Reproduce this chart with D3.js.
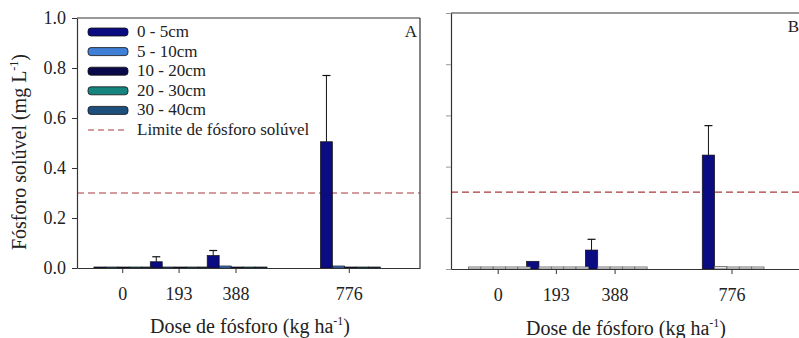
<!DOCTYPE html>
<html><head><meta charset="utf-8">
<script src="https://cdn.jsdelivr.net/npm/d3@7"></script>
<style>
body{margin:0;background:#fff;}
</style></head>
<body><svg id="c" width="799" height="338" style="font-family:'Liberation Serif','DejaVu Serif',serif"></svg>
<script>
const doses = [0, 193, 388, 776];
const doseLabels = ["0", "193", "388", "776"];
const seriesNames = ["0 - 5cm", "5 - 10cm", "10 - 20cm", "20 - 30cm", "30 - 40cm"];
const seriesColors = ["#0b0b82", "#3f7fd6", "#0a0a4a", "#17857f", "#1d4f7c"];
const yTicks = [0, 0.2, 0.4, 0.6, 0.8, 1.0];
const limitValue = 0.3;
const limitLabel = "Limite de fósforo solúvel";

// Panel A values (per series, per dose)
const A_s0 = [0.004, 0.025, 0.05, 0.505];
const A_s1 = [0.004, 0.004, 0.008, 0.008];
const A_s2 = [0.004, 0.004, 0.004, 0.004];
const A_s3 = [0.004, 0.004, 0.004, 0.004];
const A_s4 = [0.004, 0.004, 0.004, 0.004];
const A_err0 = [0, 0.02, 0.02, 0.265];
// Panel B values
const B_s0 = [0.008, 0.03, 0.074, 0.445];
const B_s1 = [0.008, 0.008, 0.008, 0.01];
const B_s2 = [0.008, 0.008, 0.008, 0.008];
const B_s3 = [0.008, 0.008, 0.008, 0.008];
const B_s4 = [0.008, 0.008, 0.008, 0.008];
const B_err0 = [0, 0, 0.042, 0.115];

const FONT = "'Liberation Serif','DejaVu Serif',serif";
const svg = d3.select("#c");
const xDomain = [-155, 1020];
const barW = 41, groupOffset = -97;

function txt(sel){ return sel.style("font-family", FONT).attr("fill", "#222"); }

function panel(cfg){
  const g = svg.append("g");
  const x = d3.scaleLinear().domain(xDomain).range([cfg.x0, cfg.x1]);
  const y = d3.scaleLinear().domain([0, 1]).range([cfg.y0, cfg.y1]);
  g.append("line").attr("x1", cfg.x0).attr("x2", cfg.x1).attr("y1", cfg.y1).attr("y2", cfg.y1)
    .attr("stroke", "#333").attr("stroke-width", 1.2);
  g.append("line").attr("x1", cfg.x1).attr("x2", cfg.x1).attr("y1", cfg.y1).attr("y2", cfg.y0)
    .attr("stroke", "#333").attr("stroke-width", 1.2);
  g.append("line").attr("x1", cfg.x0).attr("x2", cfg.x1).attr("y1", y(limitValue)).attr("y2", y(limitValue))
    .attr("stroke", "#a83838").attr("stroke-width", 1.2).attr("stroke-dasharray", "7,4");
  const vals = cfg.values;
  vals.forEach((arr, si) => {
    arr.forEach((v, di) => {
      const xs = x(doses[di] + groupOffset + si * barW);
      const xe = x(doses[di] + groupOffset + (si + 1) * barW);
      const small = cfg.lightSmall && v < 0.02;
      g.append("rect").attr("x", xs).attr("width", xe - xs)
        .attr("y", y(v)).attr("height", y(0) - y(v))
        .attr("fill", small ? "#e2e2e2" : seriesColors[si])
        .attr("stroke", small ? "#666" : "#111").attr("stroke-width", small ? 0.8 : 0.7);
    });
  });
  cfg.err.forEach((e, di) => {
    if (e <= 0) return;
    const xs = x(doses[di] + groupOffset), xe = x(doses[di] + groupOffset + barW);
    const cx = (xs + xe) / 2;
    const top = y(cfg.values[0][di] + e);
    g.append("line").attr("x1", cx).attr("x2", cx).attr("y1", y(cfg.values[0][di])).attr("y2", top)
      .attr("stroke", "#111").attr("stroke-width", 1);
    g.append("line").attr("x1", cx - 4).attr("x2", cx + 4).attr("y1", top).attr("y2", top)
      .attr("stroke", "#111").attr("stroke-width", 1.2);
  });
  const xa = g.append("g").attr("transform", `translate(0,${cfg.y0})`)
    .call(d3.axisBottom(x).tickValues(doses).tickFormat((d, i) => doseLabels[i]).tickSize(5).tickSizeOuter(0).tickPadding(14));
  xa.attr("font-family", null);
  xa.select(".domain").attr("stroke", "#333").attr("stroke-width", 1.2);
  xa.selectAll(".tick line").attr("stroke", "#333");
  txt(xa.selectAll("text")).attr("font-size", 18);
  const ya = g.append("g").attr("transform", `translate(${cfg.x0},0)`)
    .call(d3.axisLeft(y).tickValues(yTicks).tickFormat(cfg.yLabels ? d3.format(".1f") : () => "").tickSize(5).tickSizeOuter(0).tickPadding(6));
  ya.attr("font-family", null);
  ya.select(".domain").attr("stroke", "#333").attr("stroke-width", 1.2);
  ya.selectAll(".tick line").attr("stroke", cfg.yLabels ? "#333" : "#999");
  txt(ya.selectAll("text")).attr("font-size", 18);
  const t = txt(g.append("text")).attr("x", cfg.titleX).attr("y", cfg.titleY).attr("text-anchor", "middle")
    .attr("font-size", 20);
  t.append("tspan").text("Dose de fósforo (kg ha");
  t.append("tspan").attr("dy", -8).attr("font-size", 12).text("-1");
  t.append("tspan").attr("dy", 8).text(")");
  txt(g.append("text")).attr("x", cfg.letterX).attr("y", cfg.letterY).attr("text-anchor", "end")
    .attr("font-size", 17).text(cfg.letter);
  return {x, y};
}

panel({x0: 77, x1: 420, y0: 268, y1: 18, values: [A_s0, A_s1, A_s2, A_s3, A_s4], err: A_err0,
  yLabels: true, titleX: 250, titleY: 333, letter: "A", letterX: 417, letterY: 37});
panel({x0: 451, x1: 805, y0: 269, y1: 13, values: [B_s0, B_s1, B_s2, B_s3, B_s4], err: B_err0,
  yLabels: false, lightSmall: true, titleX: 626, titleY: 335, letter: "B", letterX: 799, letterY: 32});

const yt = txt(svg.append("text")).attr("transform", "translate(26,152) rotate(-90)").attr("text-anchor", "middle")
  .attr("font-size", 20);
yt.append("tspan").text("Fósforo solúvel (mg L");
yt.append("tspan").attr("dy", -8).attr("font-size", 12).text("-1");
yt.append("tspan").attr("dy", 8).text(")");

const leg = svg.append("g");
seriesNames.forEach((n, i) => {
  const cy = 32 + i * 19.6;
  leg.append("rect").attr("x", 88).attr("y", cy - 4).attr("width", 40).attr("height", 8)
    .attr("rx", 3).attr("fill", seriesColors[i]).attr("stroke", "#111").attr("stroke-width", 0.8);
  txt(leg.append("text")).attr("x", 137).attr("y", cy + 5).attr("font-size", 17).text(n);
});
const ly = 32 + 5 * 19.6;
leg.append("line").attr("x1", 88).attr("x2", 128).attr("y1", ly).attr("y2", ly)
  .attr("stroke", "#a83838").attr("stroke-width", 1.2).attr("stroke-dasharray", "6,4");
txt(leg.append("text")).attr("x", 137).attr("y", ly + 5).attr("font-size", 17).text(limitLabel);
</script></body></html>
